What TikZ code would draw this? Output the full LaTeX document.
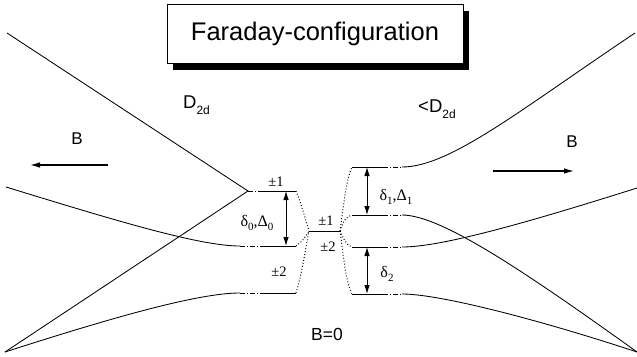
\documentclass[tikz,border=0pt]{standalone}
\usepackage{fontspec}
\setmainfont{Liberation Serif}
\newfontfamily\hsans{Liberation Sans}
\usetikzlibrary{arrows.meta,shadows}
\newcommand\dsub[1]{\raisebox{-6pt}{\fontsize{12}{12}\selectfont #1}}
\newcommand\gsub[1]{\raisebox{-4pt}{\fontsize{11}{11}\selectfont #1}}
\begin{document}
\begin{tikzpicture}[x=1pt,y=-1pt,
  curveline/.style={line width=0.85pt},
  levelline/.style={line width=0.9pt},
  dashdot/.style={line width=0.9pt,dash pattern=on 5pt off 2pt on 1pt off 2pt},
  corr/.style={line width=1pt,dash pattern=on 0.9pt off 2.1pt},
  splitarrow/.style={line width=0.9pt,{Latex[length=9pt,width=5.5pt]}-{Latex[length=9pt,width=5.5pt]}},
  fieldarrow/.style={line width=1.1pt,-{Latex[length=10pt,width=5.5pt]}},
  sanslabel/.style={font=\hsans\fontsize{17}{17}\selectfont,inner sep=0pt},
  symlabel/.style={font=\hsans\fontsize{18.5}{18.5}\selectfont,inner sep=0pt,anchor=base west},
  seriflabel/.style={font=\fontsize{14.5}{14.5}\selectfont,inner sep=0pt},
  greeklabel/.style={font=\fontsize{16}{16}\selectfont,inner sep=0pt},
  titlebox/.style={draw,line width=1pt,fill=white,inner sep=0pt,
    minimum width=296pt,minimum height=59pt,
    font=\hsans\fontsize{25.5}{26}\selectfont,
    drop shadow={shadow xshift=6pt,shadow yshift=-7pt,opacity=1,fill=black}},
]
\useasboundingbox (0,0) rectangle (637,356);

% title
\node[titlebox] (title) at (315,33.5) {Faraday-configuration};

% symmetry labels
\node[symlabel] (Dl) at (183,108) {D\dsub{2d}};
\node[symlabel] (Dr) at (418,112) {<D\dsub{2d}};

% field labels and arrows
\node[sanslabel] (Bl) at (77,139) {B};
\node[sanslabel] (Br) at (572,142) {B};
\node[sanslabel,font=\hsans\fontsize{17.5}{17.5}\selectfont] (B0) at (327,334) {B=0};
\coordinate (aLs) at (108,165); \coordinate (aLe) at (30,165);
\coordinate (aRs) at (493,171); \coordinate (aRe) at (574,171);
\draw[fieldarrow] (aLs) -- (aLe);
\draw[fieldarrow] (aRs) -- (aRe);

% ---------- left side (D2d) ----------
\coordinate (TL) at (7,33);
\coordinate (V) at (248,191);
\coordinate (BL) at (5,352);
\coordinate (ML) at (6,187);
\coordinate (L1m) at (262,191); \coordinate (L1e) at (296,191);
\coordinate (L2s) at (240,246); \coordinate (L2m) at (262,246); \coordinate (L2e) at (296,246);
\coordinate (L3s) at (240,293); \coordinate (L3m) at (262,293); \coordinate (L3e) at (296,293);

\draw[curveline] (TL) -- (V) -- (BL);
\draw[curveline] (ML) .. controls (120,222) and (200,246) .. (L2s);
\draw[curveline] (BL) .. controls (120,315) and (200,293) .. (L3s);
\draw[dashdot] (V) -- (L1m);
\draw[dashdot] (L2s) -- (L2m);
\draw[dashdot] (L3s) -- (L3m);
\draw[levelline] (L1m) -- (L1e);
\draw[levelline] (L2m) -- (L2e);
\draw[levelline] (L3m) -- (L3e);

% ---------- centre (B=0) ----------
\coordinate (C1) at (309,231); \coordinate (C2) at (340,231);
\draw[levelline] (C1) -- (C2);

% ---------- right side (<D2d) ----------
\coordinate (R1s) at (352,167); \coordinate (R1m) at (383,167); \coordinate (R1e) at (402,167);
\coordinate (R2s) at (352,215); \coordinate (R2m) at (383,215); \coordinate (R2e) at (402,215);
\coordinate (R3s) at (352,247); \coordinate (R3m) at (383,247); \coordinate (R3e) at (402,247);
\coordinate (R4s) at (352,294); \coordinate (R4m) at (383,294); \coordinate (R4e) at (402,294);
\coordinate (TR) at (635,33);
\coordinate (BR) at (637,352);
\coordinate (MR) at (637,188);

\draw[levelline] (R1s) -- (R1m);
\draw[levelline] (R2s) -- (R2m);
\draw[levelline] (R3s) -- (R3m);
\draw[levelline] (R4s) -- (R4m);
\draw[dashdot] (R1m) -- (R1e);
\draw[dashdot] (R2m) -- (R2e);
\draw[dashdot] (R3m) -- (R3e);
\draw[dashdot] (R4m) -- (R4e);
\draw[curveline] (R1e) .. controls (450,167) and (520,110) .. (TR);
\draw[curveline] (R2e) .. controls (440,215) and (520,268) .. (BR);
\draw[curveline] (R3e) .. controls (440,247) and (520,225) .. (MR);
\draw[curveline] (R4e) .. controls (440,294) and (540,320) .. (BR);

% ---------- correlation (dotted) lines ----------
\draw[corr] (L1e) .. controls (302,205) and (306,222) .. (C1);
\draw[corr] (L2e) .. controls (302,242) and (306,236) .. (C1);
\draw[corr] (L3e) .. controls (303,270) and (306,245) .. (C1);
\draw[corr] (C2) .. controls (343,210) and (346,180) .. (R1s);
\draw[corr] (C2) .. controls (343,222) and (346,216) .. (R2s);
\draw[corr] (C2) .. controls (343,238) and (346,245) .. (R3s);
\draw[corr] (C2) .. controls (343,250) and (345,280) .. (R4s);

% ---------- splittings ----------
\coordinate (sL1) at (286,191); \coordinate (sL2) at (286,246);
\coordinate (sR1) at (367,167); \coordinate (sR2) at (367,215);
\coordinate (sR3) at (367,247); \coordinate (sR4) at (367,294);
\draw[splitarrow] (sL1) -- (sL2);
\draw[splitarrow] (sR1) -- (sR2);
\draw[splitarrow] (sR3) -- (sR4);

% ---------- level labels ----------
\node[seriflabel] (p1l) at (276,182) {±1};
\node[seriflabel] (p2l) at (279,272) {±2};
\node[seriflabel] (p1c) at (326,221) {±1};
\node[seriflabel] (p2c) at (328,247) {±2};
\node[greeklabel] (dl) at (257,223) {δ\gsub{0},Δ\gsub{0}};
\node[greeklabel] (dr1) at (396,197) {δ\gsub{1},Δ\gsub{1}};
\node[greeklabel] (dr2) at (387,274) {δ\gsub{2}};
\end{tikzpicture}
\end{document}
